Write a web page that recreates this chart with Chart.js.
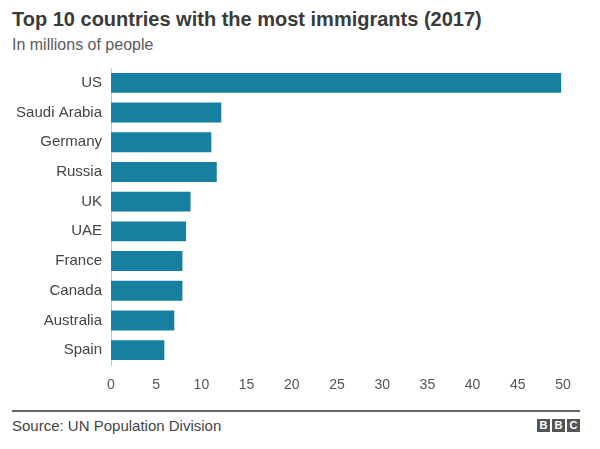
<!DOCTYPE html>
<html>
<head>
<meta charset="utf-8">
<script src="https://cdn.jsdelivr.net/npm/chart.js@4"></script>
<style>
  body { margin: 0; background: #fff; font-family: "Liberation Sans", Arial, sans-serif; }
  #wrap { position: relative; width: 600px; height: 449px; overflow: hidden; }
  #title { position: absolute; left: 12px; top: 8px; font-size: 20px; font-weight: bold; color: #3a3a3a; white-space: nowrap; }
  #subtitle { position: absolute; left: 12px; top: 36px; font-size: 16px; color: #5a5a5a; white-space: nowrap; }
  #chartBox { position: absolute; left: 0; top: 50px; width: 600px; height: 350px; }
  #rule { position: absolute; left: 12px; top: 410px; width: 568px; height: 2px; background: #666; }
  #source { position: absolute; left: 12px; top: 417px; font-size: 15px; color: #444; }
  #logo { position: absolute; left: 537px; top: 419px; display: flex; gap: 2px; }
  #logo span { width: 13px; height: 13px; background: #555; color: #fff; font-size: 11px; font-weight: bold; line-height: 13px; text-align: center; }
</style>
</head>
<body>
<div id="wrap">
  <div id="title">Top 10 countries with the most immigrants (2017)</div>
  <div id="subtitle">In millions of people</div>
  <div id="chartBox"><canvas id="chart"></canvas></div>
  <div id="rule"></div>
  <div id="source">Source: UN Population Division</div>
  <div id="logo"><span>B</span><span>B</span><span>C</span></div>
</div>
<script>
// data (millions of people)
const countries = ['US', 'Saudi Arabia', 'Germany', 'Russia', 'UK', 'UAE', 'France', 'Canada', 'Australia', 'Spain'];
const immigrants = [49.8, 12.2, 11.1, 11.7, 8.8, 8.3, 7.9, 7.9, 7.0, 5.9];
const xTicks = [0, 5, 10, 15, 20, 25, 30, 35, 40, 45, 50];

const ctx = document.getElementById('chart').getContext('2d');
const chart = new Chart(ctx, {
    type: 'bar',
    data: {
        labels: countries,
        datasets: [{
            data: immigrants,
            backgroundColor: '#1780a1',
            barPercentage: 0.67,
            categoryPercentage: 1
        }]
    },
    options: {
        indexAxis: 'y',
        responsive: true,
        maintainAspectRatio: false,
        animation: false,
        layout: { padding: { top: 7, right: 37, left: 0, bottom: 0 } },
        plugins: {
            legend: { display: false },
            tooltip: { enabled: false }
        },
        scales: {
            x: {
                min: 0,
                max: 50,
                afterBuildTicks: (scale) => { scale.ticks = xTicks.map(v => ({ value: v })); },
                afterFit: (scale) => { scale.height = 35; },
                grid: { display: false, drawTicks: false },
                border: { display: false },
                ticks: { padding: 12, color: '#555', font: { family: 'Liberation Sans', size: 14 } }
            },
            y: {
                afterFit: (scale) => { scale.width = 111; },
                grid: { display: false, drawTicks: false },
                border: { display: true, color: '#c8c8c8', width: 1 },
                ticks: { padding: 9, color: '#444', font: { family: 'Liberation Sans', size: 15 } }
            }
        }
    }
});
</script>
</body>
</html>
